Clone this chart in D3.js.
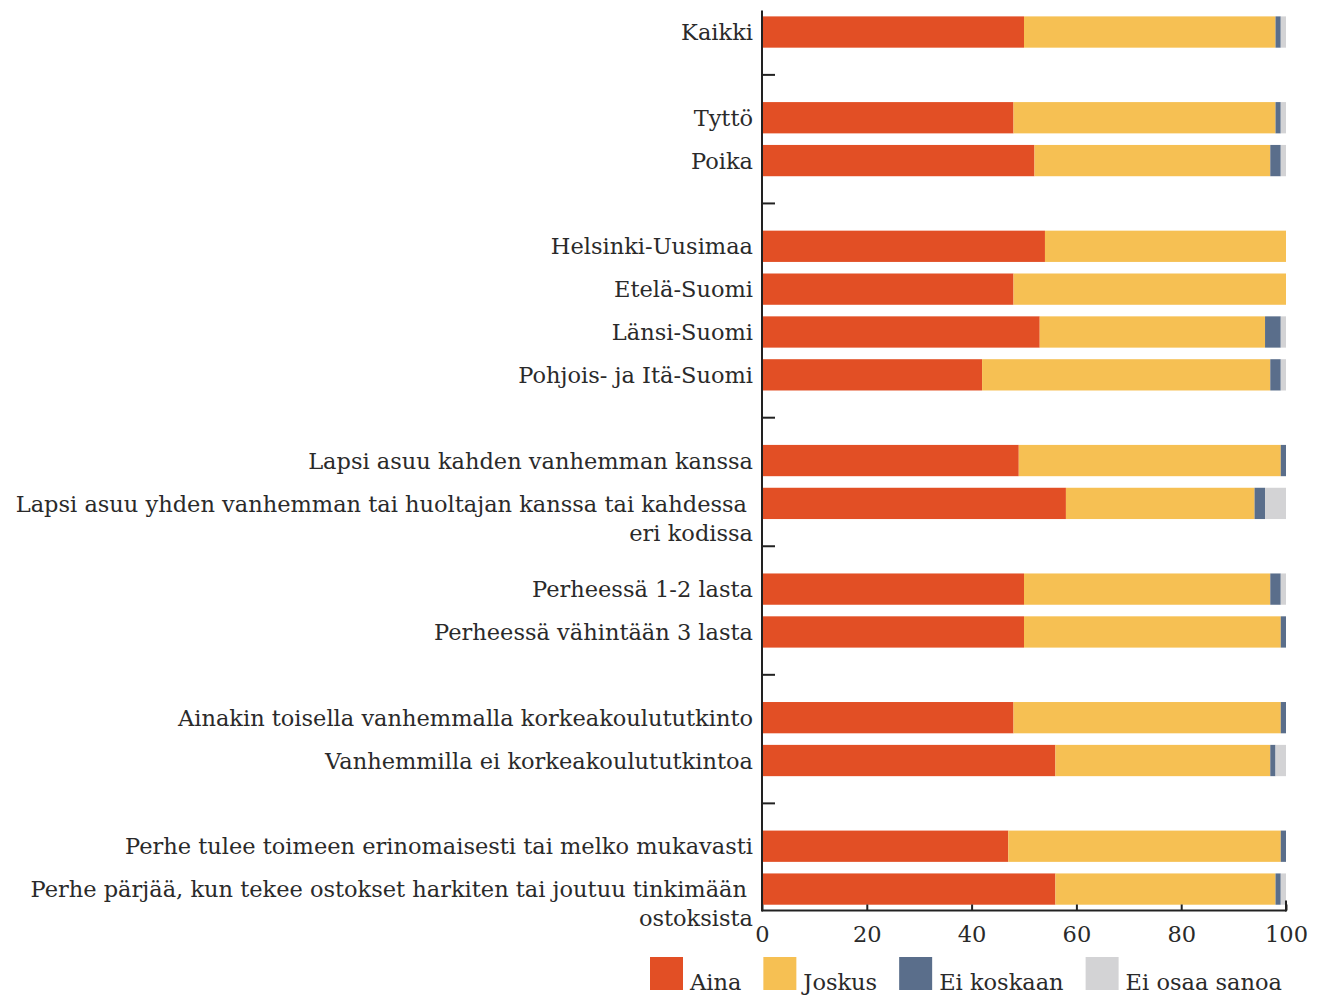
<!DOCTYPE html>
<html><head><meta charset="utf-8">
<script src="https://cdn.jsdelivr.net/npm/d3@7"></script>
<style>body{margin:0;background:#fff;} svg{display:block;}</style>
</head><body>
<svg id="chart" width="1320" height="996"></svg>
<script>
const categories = ["Kaikki","_1","Tyttö","Poika","_2","Helsinki-Uusimaa","Etelä-Suomi","Länsi-Suomi","Pohjois- ja Itä-Suomi","_3",
 "Lapsi asuu kahden vanhemman kanssa","Lapsi asuu yhden vanhemman tai huoltajan kanssa tai kahdessa eri kodissa","_4",
 "Perheessä 1-2 lasta","Perheessä vähintään 3 lasta","_5",
 "Ainakin toisella vanhemmalla korkeakoulututkinto","Vanhemmilla ei korkeakoulututkintoa","_6",
 "Perhe tulee toimeen erinomaisesti tai melko mukavasti","Perhe pärjää, kun tekee ostokset harkiten tai joutuu tinkimään ostoksista"];
const seriesNames = ["Aina","Joskus","Ei koskaan","Ei osaa sanoa"];
const aina      = [50,null,48,52,null,54,48,53,42,null,49,58,null,50,50,null,48,56,null,47,56];
const joskus    = [48,null,50,45,null,46,52,43,55,null,50,36,null,47,49,null,51,41,null,52,42];
const eiKoskaan = [1,null,1,2,null,0,0,3,2,null,1,2,null,2,1,null,1,1,null,1,1];
const eiOsaa    = [1,null,1,1,null,0,0,1,1,null,0,4,null,1,0,null,0,2,null,0,1];
const xTicks = [0,20,40,60,80,100];
const colors = ["#E24F25","#F6C053","#5A6E8B","#D3D3D5"];

const FONT = "'DejaVu Serif', serif";
const svg = d3.select("#chart");
const pLeft = 762, pRight = 1286, pTop = 10.6, pBottom = 910.5;
const x = d3.scaleLinear().domain([0,100]).range([pLeft,pRight]);
const y = d3.scaleBand().domain(categories).range([pTop,pBottom]).paddingInner(0.27).paddingOuter(0.135);

const rows = categories.map((c,i)=>({cat:c, vals:[aina[i],joskus[i],eiKoskaan[i],eiOsaa[i]]}));
const stackData = rows.filter(r=>r.vals[0]!==null).map(r=>{const o={cat:r.cat}; seriesNames.forEach((s,k)=>o[s]=r.vals[k]); return o;});
const stack = d3.stack().keys(seriesNames)(stackData);

// left axis (ticks inward)
const yAxis = d3.axisLeft(y).tickSize(-13).tickFormat("");
const gy = svg.append("g").attr("transform",`translate(${pLeft},0)`).call(yAxis);
gy.select(".domain").remove();
gy.selectAll(".tick line").attr("stroke","#222").attr("stroke-width",2);

// bars
svg.append("g").selectAll("g").data(stack).join("g").attr("fill",(d,i)=>colors[i])
 .selectAll("rect").data(d=>d).join("rect")
 .attr("x",d=>x(d[0])).attr("width",d=>Math.max(0,x(d[1])-x(d[0])))
 .attr("y",d=>y(d.data.cat)).attr("height",y.bandwidth());

// left axis line
svg.append("line").attr("x1",pLeft).attr("x2",pLeft).attr("y1",pTop).attr("y2",pBottom+1).attr("stroke","#222").attr("stroke-width",2);

// bottom axis
const xAxis = d3.axisBottom(x).tickValues(xTicks).tickSize(-6).tickPadding(16);
const gx = svg.append("g").attr("transform",`translate(0,${pBottom})`).call(xAxis);
gx.select(".domain").attr("stroke","#222").attr("stroke-width",2).attr("d",`M${pLeft},0H${pRight}`);
gx.selectAll(".tick line").attr("stroke","#222").attr("stroke-width",2);
gx.selectAll(".tick text").attr("font-family",FONT).attr("font-size",22.5).attr("fill","#2a2a2a");
svg.append("line").attr("x1",pRight).attr("x2",pRight).attr("y1",pBottom-10).attr("y2",pBottom+1).attr("stroke","#222").attr("stroke-width",2);

// category labels with wrapping
const labelG = svg.append("g");
const maxW = 740;
const LX = pLeft - 9;
categories.forEach(c=>{
  if(c.startsWith("_")) return;
  const t = labelG.append("text").attr("x",LX).attr("y",y(c)+y.bandwidth()/2).attr("dy","0.36em")
    .attr("text-anchor","end").attr("font-family",FONT).attr("font-size",22.5).attr("fill","#2a2a2a");
  const words = c.split(" ");
  let line = [];
  let ts = t.append("tspan").attr("x",LX);
  words.forEach(w=>{
    line.push(w); ts.text(line.join(" "));
    if(ts.node().getComputedTextLength() > maxW && line.length>1){
      line.pop(); ts.text(line.join(" ")).attr("x",LX-6);
      line=[w];
      ts = t.append("tspan").attr("x",LX).attr("dy","29px").text(w);
    }
  });
});

// legend
const lg = svg.append("g");
let lx = 650;
seriesNames.forEach((s,i)=>{
  lg.append("rect").attr("x",lx).attr("y",957).attr("width",33).attr("height",33).attr("fill",colors[i]);
  const t = lg.append("text").attr("x",lx+40).attr("y",990).attr("font-family",FONT).attr("font-size",22.5).attr("fill","#2a2a2a").text(s);
  lx = lx + 40 + t.node().getComputedTextLength() + 22;
});
</script>
</body></html>
